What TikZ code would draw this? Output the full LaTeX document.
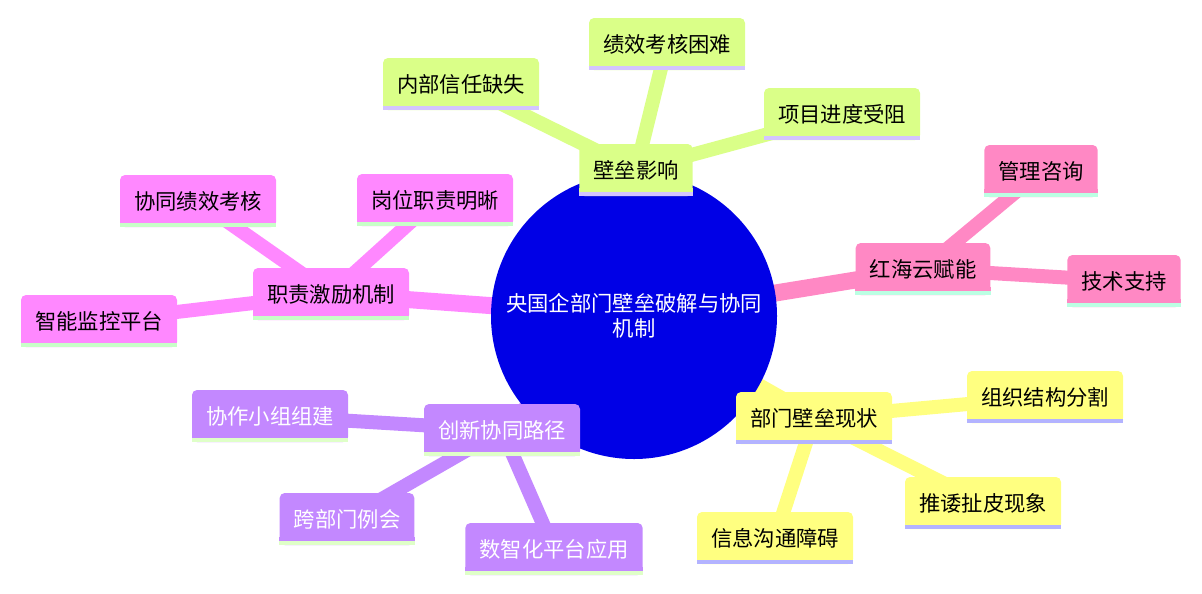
\documentclass[tikz,border=0pt]{standalone}
\usepackage{fontspec}
\newfontfamily\cjk{Noto Sans CJK SC}
\usetikzlibrary{backgrounds}
\pgfdeclarelayer{foreground}
\pgfsetlayers{background,main,foreground}
\definecolor{rootblue}{HTML}{0000E6}
\definecolor{impactfill}{HTML}{DAFF88}
\definecolor{impactline}{HTML}{D3C5FF}
\definecolor{dutyfill}{HTML}{FF88FF}
\definecolor{dutyline}{HTML}{C8FFC8}
\definecolor{cloudfill}{HTML}{FF88C4}
\definecolor{cloudline}{HTML}{BBFFE3}
\definecolor{statefill}{HTML}{FFFF80}
\definecolor{stateline}{HTML}{B3B3FF}
\definecolor{pathfill}{HTML}{C388FF}
\definecolor{pathline}{HTML}{DFFFC8}
\tikzset{
  box/.style n args={3}{rectangle, rounded corners=3.75pt, fill=#1, text=#3,
    minimum height=39pt, inner xsep=10.5pt, font=\cjk\fontsize{16}{19}\selectfont,
    append after command={\pgfextra{\begin{pgfonlayer}{foreground}
      \fill[#1, sharp corners] ([yshift=6pt]\tikzlastnode.south west) rectangle (\tikzlastnode.south east);
      \fill[#2, sharp corners] ([yshift=3pt]\tikzlastnode.south west) rectangle (\tikzlastnode.south east);
      \end{pgfonlayer}}}},
  rootedge/.style={line width=12.75pt, draw=#1},
  leafedge/.style={line width=10.5pt, draw=#1},
}
\begin{document}
\begin{tikzpicture}[x=0.75pt, y=-0.75pt]
            \useasboundingbox (0, 0) rectangle (1202, 593);
            \node[circle, fill=rootblue, text=white, minimum size=214.5pt, align=center,
                  font=\cjk\fontsize{16}{19}\selectfont] (root) at (634, 316)
                  {央国企部门壁垒破解与协同\\机制};
            \node[box={impactfill}{impactline}{black}] (impact) at (636, 170) {壁垒影响};
            \node[box={impactfill}{impactline}{black}] (perf) at (667, 44) {绩效考核困难};
            \node[box={impactfill}{impactline}{black}] (trust) at (461, 84) {内部信任缺失};
            \node[box={impactfill}{impactline}{black}] (progress) at (842, 114) {项目进度受阻};
            \node[box={dutyfill}{dutyline}{black}] (duty) at (331, 294) {职责激励机制};
            \node[box={dutyfill}{dutyline}{black}] (coperf) at (198, 201) {协同绩效考核};
            \node[box={dutyfill}{dutyline}{black}] (post) at (435, 200) {岗位职责明晰};
            \node[box={dutyfill}{dutyline}{black}] (monitor) at (99, 321) {智能监控平台};
            \node[box={cloudfill}{cloudline}{black}] (cloud) at (923, 269) {红海云赋能};
            \node[box={cloudfill}{cloudline}{black}] (consult) at (1041, 171) {管理咨询};
            \node[box={cloudfill}{cloudline}{black}] (tech) at (1124, 281) {技术支持};
            \node[box={statefill}{stateline}{black}] (state) at (814, 418) {部门壁垒现状};
            \node[box={statefill}{stateline}{black}] (struct) at (1045, 397) {组织结构分割};
            \node[box={statefill}{stateline}{black}] (shirk) at (983, 503) {推诿扯皮现象};
            \node[box={statefill}{stateline}{black}] (info) at (775, 538) {信息沟通障碍};
            \node[box={pathfill}{pathline}{white}] (path) at (502, 430) {创新协同路径};
            \node[box={pathfill}{pathline}{white}] (team) at (270, 416) {协作小组组建};
            \node[box={pathfill}{pathline}{white}] (meet) at (347, 519) {跨部门例会};
            \node[box={pathfill}{pathline}{white}] (digital) at (554, 549) {数智化平台应用};
            \begin{pgfonlayer}{background}
                \draw[rootedge=impactfill] (root.center) -- (impact.center);
                \draw[rootedge=dutyfill] (root.center) -- (duty.center);
                \draw[rootedge=cloudfill] (root.center) -- (cloud.center);
                \draw[rootedge=statefill] (root.center) -- (state.center);
                \draw[rootedge=pathfill] (root.center) -- (path.center);
                \foreach \leaf in {perf, trust, progress}
                    \draw[leafedge=impactfill] (impact.center) -- (\leaf.center);
                \foreach \leaf in {coperf, post, monitor}
                    \draw[leafedge=dutyfill] (duty.center) -- (\leaf.center);
                \foreach \leaf in {consult, tech}
                    \draw[leafedge=cloudfill] (cloud.center) -- (\leaf.center);
                \foreach \leaf in {struct, shirk, info}
                    \draw[leafedge=statefill] (state.center) -- (\leaf.center);
                \foreach \leaf in {team, meet, digital}
                    \draw[leafedge=pathfill] (path.center) -- (\leaf.center);
            \end{pgfonlayer}
        \end{tikzpicture}
\end{document}
